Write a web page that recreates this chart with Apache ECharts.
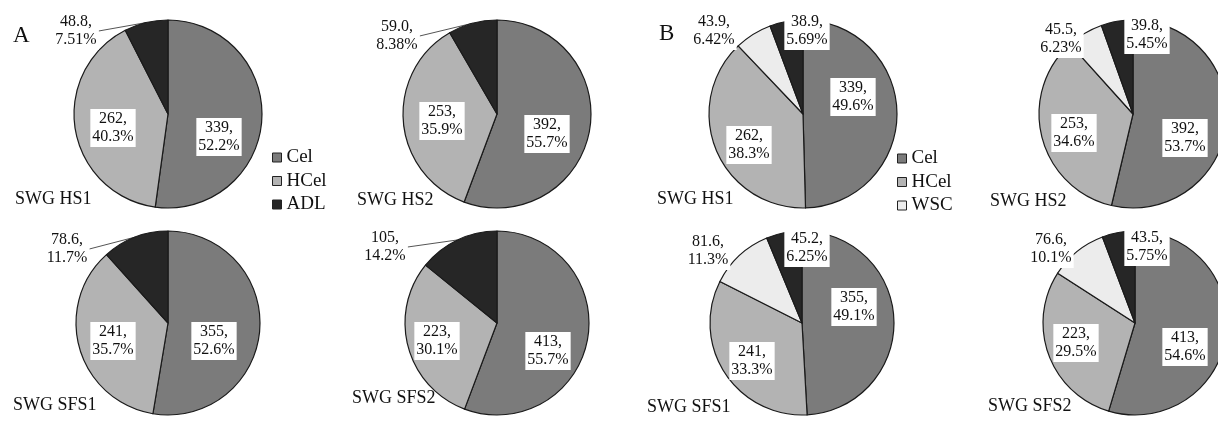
<!DOCTYPE html>
<html>
<head>
<meta charset="utf-8">
<script src="https://cdn.jsdelivr.net/npm/echarts@6/dist/echarts.min.js"></script>
<style>html,body{margin:0;padding:0;background:#fff;}#c{width:1218px;height:421px;}</style>
</head>
<body>
<div id="c"></div>
<script>
// ---- data ----
const panelLetters = ['A', 'B'];
const categoriesA = ['Cel', 'HCel', 'ADL'];
const categoriesB = ['Cel', 'HCel', 'WSC', 'ADL'];
const legendA = ['Cel', 'HCel', 'ADL'];
const legendB = ['Cel', 'HCel', 'WSC'];
const pieNames = ['SWG HS1', 'SWG HS2', 'SWG SFS1', 'SWG SFS2'];
const valuesA_HS1 = [339, 262, 48.8];
const valuesA_HS2 = [392, 253, 59.0];
const valuesA_SFS1 = [355, 241, 78.6];
const valuesA_SFS2 = [413, 223, 105];
const valuesB_HS1 = [339, 262, 43.9, 38.9];
const valuesB_HS2 = [392, 253, 45.5, 39.8];
const valuesB_SFS1 = [355, 241, 81.6, 45.2];
const valuesB_SFS2 = [413, 223, 76.6, 43.5];

// ---- styles / layout ----
const colors = { Cel: '#7b7b7b', HCel: '#b3b3b3', ADL: '#262626', WSC: '#ececec' };
const serif = 'Liberation Serif';
const fmt = v => Number(v).toPrecision(3);

// label offsets relative to pie centre (px)
const pies = [
  { cats: categoriesA, vals: valuesA_HS1, name: pieNames[0], c: [168, 114], r: 94, line: [2],
    offs: [[51, 23], [-55, 14], [-92, -83]], title: [15, 190] },
  { cats: categoriesA, vals: valuesA_HS2, name: pieNames[1], c: [497, 114], r: 94, line: [2],
    offs: [[50, 20], [-55, 7], [-100, -78]], title: [357, 191] },
  { cats: categoriesA, vals: valuesA_SFS1, name: pieNames[2], c: [168, 323], r: 92, line: [2],
    offs: [[46, 18], [-55, 18], [-101, -74]], title: [13, 396] },
  { cats: categoriesA, vals: valuesA_SFS2, name: pieNames[3], c: [497, 323], r: 92, line: [2],
    offs: [[51, 28], [-60, 18], [-112, -76]], title: [352, 389] },
  { cats: categoriesB, vals: valuesB_HS1, name: pieNames[0], c: [803, 114], r: 94, line: [],
    offs: [[50, -17], [-54, 31], [-89, -83], [4, -83]], title: [657, 190] },
  { cats: categoriesB, vals: valuesB_HS2, name: pieNames[1], c: [1133, 114], r: 94, line: [],
    offs: [[52, 24], [-59, 19], [-72, -75], [14, -79]], title: [990, 192] },
  { cats: categoriesB, vals: valuesB_SFS1, name: pieNames[2], c: [802, 323], r: 92, line: [],
    offs: [[52, -16], [-50, 38], [-94, -72], [5, -75]], title: [647, 398] },
  { cats: categoriesB, vals: valuesB_SFS2, name: pieNames[3], c: [1135, 323], r: 92, line: [],
    offs: [[50, 24], [-59, 20], [-84, -74], [12, -76]], title: [988, 397] }
];

function makeSeries(p) {
  const sum = p.vals.reduce((a, b) => a + b, 0);
  const cx = p.c[0], cy = p.c[1];
  return {
    type: 'pie',
    name: p.name,
    center: [cx, cy],
    radius: p.r,
    startAngle: 90,
    clockwise: true,
    avoidLabelOverlap: false,
    silent: true,
    animation: false,
    itemStyle: { borderColor: '#1a1a1a', borderWidth: 1.2 },
    label: {
      show: true,
      formatter: q => fmt(q.value) + ',\n' + fmt(q.value / sum * 100) + '%',
      fontFamily: serif, fontSize: 16, lineHeight: 18, color: '#111',
      backgroundColor: '#fff', padding: [1, 2], align: 'center'
    },
    labelLine: { lineStyle: { color: '#555', width: 1 }, length: 6, length2: 0, smooth: false },
    labelLayout: q => ({
      x: cx + p.offs[q.dataIndex][0],
      y: cy + p.offs[q.dataIndex][1],
      align: 'center', verticalAlign: 'middle'
    }),
    data: p.cats.map((c, i) => ({
      name: c,
      value: p.vals[i],
      itemStyle: { color: colors[c] },
      label: { position: p.line.includes(i) ? 'outside' : 'inside' },
      labelLine: { show: p.line.includes(i) }
    }))
  };
}

const titles = [
  { text: panelLetters[0], left: 13, top: 24 },
  { text: panelLetters[1], left: 659, top: 22 }
].map(t => Object.assign(t, { padding: 0, textStyle: { fontFamily: serif, fontSize: 23, lineHeight: 23, fontWeight: 'normal', color: '#111' } }))
 .concat(pies.map(p => ({
   text: p.name, left: p.title[0], top: p.title[1], padding: 0,
   textStyle: { fontFamily: serif, fontSize: 18, lineHeight: 18, fontWeight: 'normal', color: '#111' }
 })));

const legendCommon = {
  orient: 'vertical', icon: 'rect', itemWidth: 9, itemHeight: 9, itemGap: 4.5, itemTextGap: 6,
  selectedMode: false, padding: 0,
  itemStyle: { borderColor: '#222', borderWidth: 1 },
  textStyle: { fontFamily: serif, fontSize: 19, lineHeight: 19, color: '#111' }
};

const option = {
  backgroundColor: '#fff',
  animation: false,
  title: titles,
  legend: [
    Object.assign({}, legendCommon, { data: legendA, left: 272, top: 148 }),
    Object.assign({}, legendCommon, { data: legendB, left: 897, top: 149 })
  ],
  series: pies.map(makeSeries)
};

const chart = echarts.init(document.getElementById('c'), null, { renderer: 'canvas' });
chart.setOption(option);
</script>
</body>
</html>
